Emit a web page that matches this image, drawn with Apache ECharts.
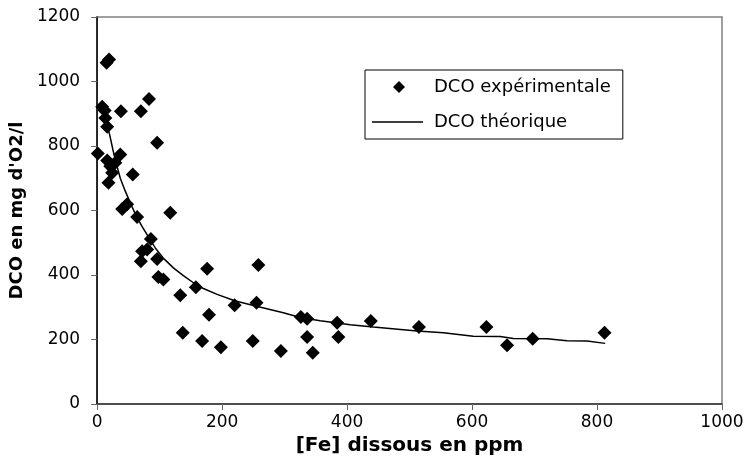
<!DOCTYPE html>
<html>
<head>
<meta charset="utf-8">
<title>DCO</title>
<script src="https://cdn.jsdelivr.net/npm/echarts@6/dist/echarts.min.js"></script>
<style>
	html, body { margin: 0; padding: 0; background: #fff; }
	#dcoChart { width: 747px; height: 473px; }
</style>
</head>
<body>
<div id="dcoChart"></div>
<script>
// points mesurés
var expX = [1, 8, 12, 13, 16, 15, 19, 16, 21, 29, 24, 18, 37, 57, 38, 70, 83, 96, 40, 48, 64, 117, 86, 80, 72, 70, 96, 98, 106, 133, 158, 176, 258, 220, 255, 179, 137, 168, 198, 249, 294, 326, 336, 336, 345, 384, 386, 438, 515, 623, 656, 697, 812];
var expY = [777, 922, 910, 887, 860, 1058, 1068, 755, 737, 748, 717, 686, 774, 712, 908, 908, 946, 810, 605, 619, 580, 593, 512, 479, 474, 443, 450, 394, 386, 337, 362, 419, 431, 306, 314, 277, 221, 195, 176, 195, 164, 270, 264, 208, 159, 252, 208, 257, 239, 239, 182, 202, 221];
// courbe théorique
var theoX = [15, 20, 25, 30, 37, 45, 53, 62, 72, 83, 93, 107, 122, 138, 154, 170, 192, 220, 255, 298, 325, 357, 405, 442, 512, 554, 602, 645, 666, 720, 752, 784, 813];
var theoY = [870, 835, 790, 750, 700, 660, 624, 585, 550, 515, 484, 450, 422, 398, 376, 358, 340, 320, 303, 283, 268, 258, 246, 239, 226, 221, 210, 209, 203, 202, 196, 195, 188];
var legendNames = ['DCO expérimentale', 'DCO théorique'];

// icônes de légende (boîte 57x12 gardée par les points M aux coins)
var iconDiamond = 'path://M0,0 M57,12 M27,0 L33,6 L27,12 L21,6 Z';
var iconLine = 'path://M0,0 M57,12 M0,5.3 L51,5.3 L51,6.7 L0,6.7 Z';

var dcoChart = {
	init: function() {
		this.chart = echarts.init(document.getElementById('dcoChart'));
		this.chart.setOption(this.option(), true);
	},
	pairs: function(xs, ys) {
		var out = [];
		for (var i = 0; i < xs.length; i++) {
			out.push([xs[i], ys[i]]);
		}
		return out;
	},
	option: function() {
		var tickFont = 'DejaVu Sans';
		return {
			animation: false,
			backgroundColor: '#fff',
			grid: {
				left: 97,
				right: 25,
				top: 17,
				bottom: 69,
				show: true,
				borderColor: '#808080',
				borderWidth: 1.5
			},
			legend: {
				orient: 'vertical',
				left: 365,
				top: 70,
				data: [{
					name: legendNames[0],
					icon: iconDiamond
				}, {
					name: legendNames[1],
					icon: iconLine
				}],
				itemWidth: 57,
				itemHeight: 12,
				itemGap: 17,
				padding: [8, 12, 8, 7],
				borderColor: '#000',
				borderWidth: 1,
				itemStyle: { color: '#000', borderWidth: 0, opacity: 1 },
				lineStyle: { width: 0 },
				textStyle: {
					fontFamily: tickFont,
					fontSize: 18,
					color: '#000'
				}
			},
			xAxis: {
				type: 'value',
				min: 0,
				max: 1000,
				interval: 200,
				name: '[Fe] dissous en ppm',
				nameLocation: 'middle',
				nameGap: 28,
				nameTextStyle: {
					fontFamily: tickFont,
					fontWeight: 'bold',
					fontSize: 20,
					color: '#000'
				},
				axisLine: { lineStyle: { color: '#333', width: 1.5 } },
				axisTick: { show: true, inside: false, length: 6, lineStyle: { color: '#666' } },
				axisLabel: {
					margin: 10,
					fontFamily: tickFont,
					fontSize: 17,
					color: '#000',
					formatter: function(v) { return String(v); }
				},
				splitLine: { show: false }
			},
			yAxis: {
				type: 'value',
				min: 0,
				max: 1200,
				interval: 200,
				name: "DCO en mg d'O2/l",
				nameLocation: 'middle',
				nameGap: 60,
				nameTextStyle: {
					fontFamily: tickFont,
					fontWeight: 'bold',
					fontSize: 18,
					color: '#000'
				},
				axisLine: { lineStyle: { color: '#000', width: 1.5 } },
				axisTick: { show: true, inside: false, length: 6, lineStyle: { color: '#666' } },
				axisLabel: {
					margin: 17,
					fontFamily: tickFont,
					fontSize: 17,
					color: '#000',
					formatter: function(v) { return String(v); }
				},
				splitLine: { show: false }
			},
			series: [{
				name: legendNames[0],
				type: 'scatter',
				symbol: 'diamond',
				symbolSize: 14,
				itemStyle: { color: '#000', opacity: 1 },
				data: this.pairs(expX, expY),
				z: 3
			}, {
				name: legendNames[1],
				type: 'line',
				symbol: 'none',
				lineStyle: { color: '#000', width: 1.5 },
				itemStyle: { color: '#000' },
				data: this.pairs(theoX, theoY),
				z: 2
			}]
		};
	}
};

dcoChart.init();
</script>
</body>
</html>
